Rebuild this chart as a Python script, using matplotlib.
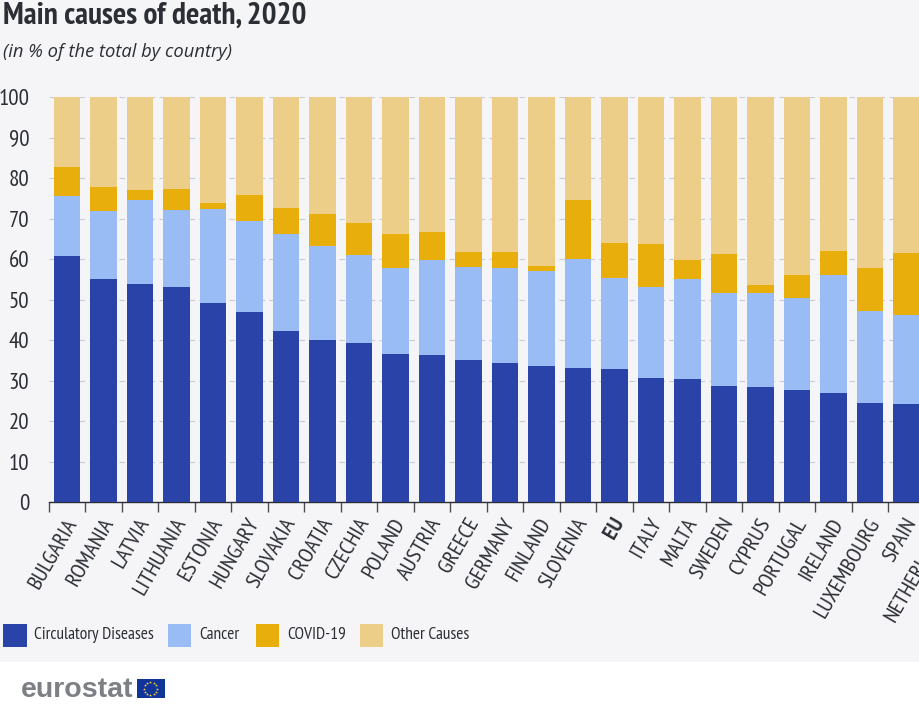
import matplotlib

matplotlib.use('Agg')
import matplotlib.pyplot as plt
from matplotlib.patches import Rectangle
import numpy as np

# narrow face first, the later ones only if it is missing
plt.rcParams['font.family'] = ['PT Sans Narrow', 'Fira Sans Condensed', 'Liberation Sans', 'DejaVu Sans']

countries = ['BULGARIA', 'ROMANIA', 'LATVIA', 'LITHUANIA', 'ESTONIA', 'HUNGARY', 'SLOVAKIA', 'CROATIA',
             'CZECHIA', 'POLAND', 'AUSTRIA', 'GREECE', 'GERMANY', 'FINLAND', 'SLOVENIA', 'EU', 'ITALY',
             'MALTA', 'SWEDEN', 'CYPRUS', 'PORTUGAL', 'IRELAND', 'LUXEMBOURG', 'SPAIN']
# the Netherlands bar is cut off by the picture, only its label shows
cut_off_label = 'NETHERLANDS'

circulatory = [60.7, 55.2, 53.9, 53.2, 49.2, 47.0, 42.2, 40.1, 39.2, 36.6, 36.3, 35.0,
               34.4, 33.6, 33.1, 32.8, 30.6, 30.4, 28.7, 28.4, 27.6, 26.9, 24.6, 24.3]
cancer = [14.9, 16.6, 20.7, 18.8, 23.2, 22.3, 24.0, 23.2, 21.7, 21.2, 23.4, 23.0,
          23.4, 23.5, 27.0, 22.5, 22.5, 24.6, 22.9, 23.2, 22.8, 29.2, 22.7, 21.9]
covid = [7.1, 5.9, 2.5, 5.3, 1.4, 6.4, 6.4, 7.9, 8.1, 8.4, 7.1, 3.8,
         4.0, 1.1, 14.4, 8.6, 10.6, 4.8, 9.7, 2.1, 5.7, 6.0, 10.6, 15.3]
other = [17.3, 22.3, 22.9, 22.7, 26.2, 24.3, 27.4, 28.8, 31.0, 33.8, 33.2, 38.2,
         38.2, 41.8, 25.5, 36.1, 36.3, 40.2, 38.7, 46.3, 43.9, 37.9, 42.1, 38.5]

series = [('Circulatory Diseases', circulatory, '#2a43a8'),
          ('Cancer', cancer, '#9abcf5'),
          ('COVID-19', covid, '#e8ae0c'),
          ('Other Causes', other, '#edce88')]

W, H = 920, 708
BG = '#f5f5f7'
TEXT = '#2b2e34'

fig = plt.figure(figsize=(W / 100, H / 100), dpi=100, facecolor='white')
fig.patches.append(Rectangle((0, (H - 662) / H), 1, 662 / H, transform=fig.transFigure,
                             facecolor=BG, edgecolor='none', zorder=-5))

ax_left, ax_top, ax_bottom = 48.7, 97, 502.3
ax = fig.add_axes([ax_left / W, (H - ax_bottom) / H, (W - ax_left) / W, (ax_bottom - ax_top) / H])
ax.patch.set_alpha(0)

step = 36.5
x = np.arange(len(countries))
bottom = np.zeros(len(countries))
for name, vals, color in series:
    ax.bar(x, vals, width=26.4 / step, bottom=bottom, color=color, zorder=3)
    bottom += np.array(vals)

ax.set_xlim(-0.5, -0.5 + (W - ax_left) / step)
ax.set_ylim(0, 100)
ax.set_yticks(range(0, 101, 10))
ax.tick_params(axis='y', length=0, labelsize=16.5, labelcolor=TEXT, pad=14)
ax.grid(axis='y', color='#c9ccd2', linestyle=(0, (5, 4)), linewidth=0.8, zorder=0)
ax.set_axisbelow(True)

# ticks sit between the bars
ax.set_xticks(x - 0.5)
ax.set_xticklabels([])
ax.tick_params(axis='x', length=7, width=1, color='#4a4d52')
for s in ['top', 'right', 'left']:
    ax.spines[s].set_visible(False)
ax.spines['bottom'].set_color('#2b2e34')
ax.spines['bottom'].set_linewidth(1)

for i, label in enumerate(countries + [cut_off_label]):
    ax.annotate(label, xy=(i, 0), xycoords=('data', 'axes fraction'), xytext=(-2, -9),
                textcoords='offset points', rotation=60, rotation_mode='anchor',
                ha='right', va='top', fontsize=16, color=TEXT,
                fontweight='bold' if label == 'EU' else 'normal', annotation_clip=False)

fig.text(3 / W, 1 - 24 / H, 'Main causes of death, 2020', fontsize=22.5, fontweight='bold',
         color=TEXT, ha='left', va='baseline')
fig.text(3 / W, 1 - 57 / H, '(in % of the total by country)', fontsize=13.25, style='italic',
         color=TEXT, ha='left', va='baseline', family=['Open Sans', 'Liberation Sans', 'DejaVu Sans'])

# legend
swatch_x = [3, 168, 256, 360]
for (name, vals, color), sx in zip(series, swatch_x):
    fig.patches.append(Rectangle((sx / W, 1 - 647 / H), 23.5 / W, 23.5 / H, transform=fig.transFigure,
                                 facecolor=color, edgecolor='none'))
    fig.text((sx + 31) / W, 1 - 635 / H, name, fontsize=12.5, color=TEXT, ha='left', va='center')

# eurostat logo
fig.text(21 / W, 1 - 697 / H, 'eurostat', fontsize=20.5, fontweight='bold', color='#7c7f84',
         ha='left', va='baseline', family=['Liberation Sans', 'DejaVu Sans'])
fig.patches.append(Rectangle((136.5 / W, 1 - 698 / H), 28 / W, 19 / H, transform=fig.transFigure,
                             facecolor='#10349a', edgecolor='none'))
ang = np.linspace(0, 2 * np.pi, 12, endpoint=False)
fig.add_artist(plt.Line2D((150.5 + 6.5 * np.cos(ang)) / W, (1 - 688.5 / H) + 6.5 * np.sin(ang) / H,
                          linestyle='none', marker='*', markersize=2.2, color='#f6d23c',
                          markeredgewidth=0, transform=fig.transFigure))

fig.savefig('out.png', dpi=100)
